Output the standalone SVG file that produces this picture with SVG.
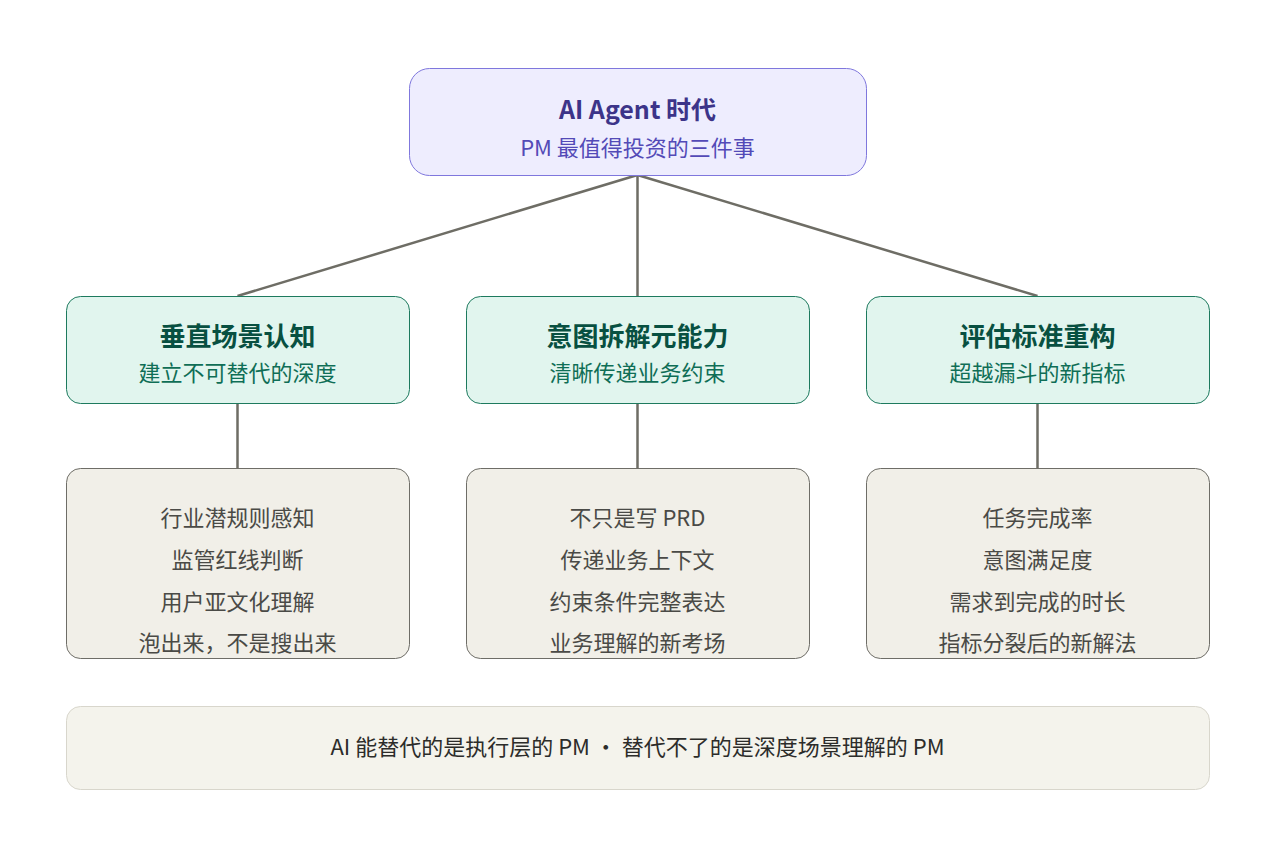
<svg xmlns="http://www.w3.org/2000/svg" width="1280" height="859" viewBox="0 0 1280 859">
<style>
text{font-family:"Noto Sans CJK SC","Noto Sans",sans-serif;text-anchor:middle;dominant-baseline:central}
.root{fill:#EEEDFE;stroke:#7F77DD;stroke-width:1}
.rt{font-size:25px;font-weight:700;fill:#3C3489}
.rs{font-size:22px;fill:#534AB7}
.mid{fill:#E1F5EE;stroke:#1D7A5E;stroke-width:1}
.mt{font-size:26px;font-weight:700;fill:#085041}
.ms{font-size:22px;fill:#0F6E56}
.leaf{fill:#F1EFE8;stroke:#6E6D67;stroke-width:1}
.lt{font-size:22px;fill:#4A4A46}
.foot{fill:#F4F3EC;stroke:#D8D6CC;stroke-width:1}
.ft{font-size:22px;fill:#2C2C2A}
.c{stroke:#6E6D65;stroke-width:2.5;fill:none}
</style>
<rect width="1280" height="859" fill="#FFFFFF"/>
<g id="connectors">
<line class="c" x1="637.5" y1="175" x2="237.5" y2="296"/>
<line class="c" x1="637.5" y1="175" x2="637.5" y2="296"/>
<line class="c" x1="637.5" y1="175" x2="1037.5" y2="296"/>
<line class="c" x1="237.5" y1="403" x2="237.5" y2="468"/>
<line class="c" x1="637.5" y1="403" x2="637.5" y2="468"/>
<line class="c" x1="1037.5" y1="403" x2="1037.5" y2="468"/>
</g>
<g id="root">
<rect class="root" x="409.5" y="68.5" width="457" height="107" rx="20"/>
<text class="rt" x="637.5" y="108">AI Agent 时代</text>
<text class="rs" x="637.5" y="146">PM 最值得投资的三件事</text>
</g>
<g id="n1">
<rect class="mid" x="66.5" y="296.5" width="343" height="107" rx="14"/>
<text class="mt" x="237.5" y="334">垂直场景认知</text>
<text class="ms" x="237.5" y="371">建立不可替代的深度</text>
</g>
<g id="n2">
<rect class="mid" x="466.5" y="296.5" width="343" height="107" rx="14"/>
<text class="mt" x="637.5" y="334">意图拆解元能力</text>
<text class="ms" x="637.5" y="371">清晰传递业务约束</text>
</g>
<g id="n3">
<rect class="mid" x="866.5" y="296.5" width="343" height="107" rx="14"/>
<text class="mt" x="1037.5" y="334">评估标准重构</text>
<text class="ms" x="1037.5" y="371">超越漏斗的新指标</text>
</g>
<g id="l1">
<rect class="leaf" x="66.5" y="468.5" width="343" height="190" rx="14"/>
<text class="lt" x="237.5" y="516">行业潜规则感知</text>
<text class="lt" x="237.5" y="558">监管红线判断</text>
<text class="lt" x="237.5" y="600">用户亚文化理解</text>
<text class="lt" x="237.5" y="641">泡出来，不是搜出来</text>
</g>
<g id="l2">
<rect class="leaf" x="466.5" y="468.5" width="343" height="190" rx="14"/>
<text class="lt" x="637.5" y="516">不只是写 PRD</text>
<text class="lt" x="637.5" y="558">传递业务上下文</text>
<text class="lt" x="637.5" y="600">约束条件完整表达</text>
<text class="lt" x="637.5" y="641">业务理解的新考场</text>
</g>
<g id="l3">
<rect class="leaf" x="866.5" y="468.5" width="343" height="190" rx="14"/>
<text class="lt" x="1037.5" y="516">任务完成率</text>
<text class="lt" x="1037.5" y="558">意图满足度</text>
<text class="lt" x="1037.5" y="600">需求到完成的时长</text>
<text class="lt" x="1037.5" y="641">指标分裂后的新解法</text>
</g>
<g id="footer">
<rect class="foot" x="66.5" y="706.5" width="1143" height="83" rx="14"/>
<text class="ft" x="637.5" y="745">AI 能替代的是执行层的 PM · 替代不了的是深度场景理解的 PM</text>
</g>
</svg>
